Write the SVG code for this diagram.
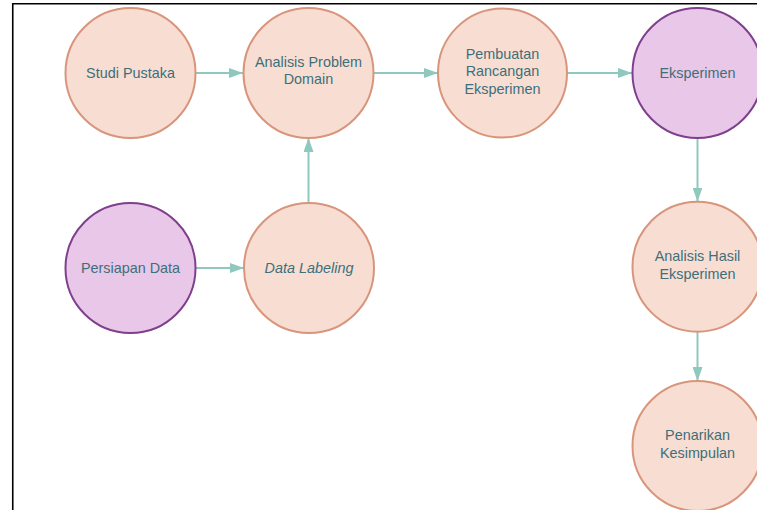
<svg xmlns="http://www.w3.org/2000/svg" width="757" height="510" viewBox="0 0 757 510">
<style>
.peach{fill:#f8ddd3;stroke:#d8957b;stroke-width:2}
.purple{fill:#e8c7e9;stroke:#7f3f8d;stroke-width:2}
text{font-family:"Liberation Sans",Arial,sans-serif;font-size:14.4px;fill:#3e6f78;text-anchor:middle}
.conn{stroke:#8ec8bf;stroke-width:2;fill:none;marker-end:url(#ah)}
</style>
<defs>
<marker id="ah" markerWidth="14" markerHeight="10" refX="14" refY="5" orient="auto" markerUnits="userSpaceOnUse">
<path d="M0,0 L14,5 L0,10 Z" fill="#8ec8bf"/>
</marker>
</defs>
<rect x="0" y="0" width="757" height="510" fill="#ffffff"/>
<path d="M12.75,520 V3.75 H770" fill="none" stroke="#000" stroke-width="1.6"/>
<g id="connectors">
<line class="conn" x1="196" y1="73" x2="243" y2="73"/>
<line class="conn" x1="374" y1="73" x2="438" y2="73"/>
<line class="conn" x1="567" y1="73" x2="632" y2="73"/>
<line class="conn" x1="196" y1="268" x2="244" y2="268"/>
<line class="conn" x1="308.5" y1="203" x2="308.5" y2="138"/>
<line class="conn" x1="697.5" y1="138" x2="697.5" y2="201.5"/>
<line class="conn" x1="697.5" y1="332" x2="697.5" y2="381"/>
</g>
<g id="studi-pustaka"><circle class="peach" cx="130.5" cy="73" r="65"/><text x="130.5" y="78">Studi Pustaka</text></g>
<g id="analisis-problem-domain"><circle class="peach" cx="308.5" cy="73" r="65"/><text x="308.5" y="67">Analisis Problem</text><text x="308.5" y="84.3">Domain</text></g>
<g id="pembuatan-rancangan"><circle class="peach" cx="502.5" cy="73" r="64.5"/><text x="502.5" y="58.5">Pembuatan</text><text x="502.5" y="76">Rancangan</text><text x="502.5" y="93.5">Eksperimen</text></g>
<g id="eksperimen"><circle class="purple" cx="697.5" cy="73" r="65"/><text x="697.5" y="78">Eksperimen</text></g>
<g id="persiapan-data"><circle class="purple" cx="130.5" cy="268" r="65"/><text x="130.5" y="273">Persiapan Data</text></g>
<g id="data-labeling"><circle class="peach" cx="309" cy="268" r="65"/><text x="309" y="273" font-style="italic">Data Labeling</text></g>
<g id="analisis-hasil"><circle class="peach" cx="697.5" cy="266.7" r="65"/><text x="697.5" y="261.3">Analisis Hasil</text><text x="697.5" y="278.6">Eksperimen</text></g>
<g id="penarikan-kesimpulan"><circle class="peach" cx="697.5" cy="446" r="65"/><text x="697.5" y="440.3">Penarikan</text><text x="697.5" y="457.6">Kesimpulan</text></g>
</svg>
